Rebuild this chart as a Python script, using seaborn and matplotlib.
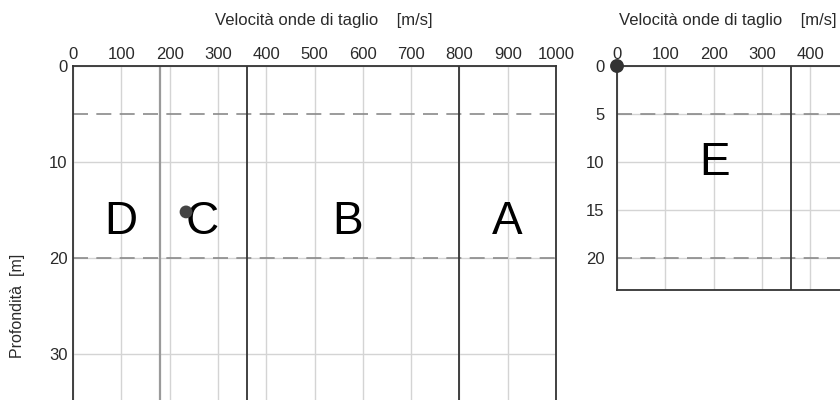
import matplotlib
matplotlib.use("Agg")
import matplotlib.pyplot as plt
import seaborn as sns
import pandas as pd

# dati
vs_ticks = [0, 100, 200, 300, 400, 500, 600, 700, 800, 900, 1000]
vs_ticks_dx = [0, 100, 200, 300, 400]
depth_ticks_left = [0, 10, 20, 30]
depth_ticks_right = [0, 5, 10, 15, 20]
strati = [5, 20]                      # profondità linee tratteggiate
limiti_classi = [180, 360, 800]       # confini delle categorie di suolo
classi = ["D", "C", "B", "A"]
classi_x = [100, 268, 568, 900]
classi_y = [16.3, 16.3, 16.3, 16.3]
punto_sx = pd.DataFrame({"vs": [234], "z": [15.2]})
punto_dx = pd.DataFrame({"vs": [0], "z": [0]})
classe_e = "E"
classe_e_x = 203
classe_e_y = 10.1
limite_e = 360
prof_e = 23.3

sns.set_theme(style="white")
plt.rcParams["font.family"] = ["Liberation Sans", "DejaVu Sans"]

fig = plt.figure(figsize=(8.4, 4.0), dpi=100)
W, H = 840, 400
px = 483 / 1000          # pixel per m/s
py = 9.6                 # pixel per m


def make_ax(left_px, top_px, zmax, xt, ypad):
    h = zmax * py
    ax = fig.add_axes([left_px / W, 1 - (top_px + h) / H, 1000 * px / W, h / H])
    ax.set_xlim(0, 1000)
    ax.set_ylim(zmax, 0)
    ax.xaxis.tick_top()
    ax.set_xticks(xt)
    ax.set_xticks([t for t in vs_ticks if t not in xt], minor=True)
    ax.tick_params(which="both", length=0, labelsize=12, colors="#2a2a2a", pad=3)
    ax.tick_params(axis="y", pad=ypad)
    ax.grid(True, which="both", color="#d4d4d4", lw=1)
    for s in ax.spines.values():
        s.set_color("#333333")
        s.set_linewidth(1.3)
    return ax


# pannello sinistro
ax1 = make_ax(73, 66, 40, vs_ticks, 4)
ax1.set_yticks(depth_ticks_left)
for z in strati:
    ax1.axhline(z, color="#8a8a8a", lw=1.2, dashes=(9, 5))
ax1.axvline(limiti_classi[0], color="#9a9a9a", lw=1.6)
for v in limiti_classi[1:]:
    ax1.axvline(v, color="#333333", lw=1.3)
for c, x, y in zip(classi, classi_x, classi_y):
    ax1.text(x, y, c, fontsize=33, ha="center", va="center", color="black")
sns.scatterplot(data=punto_sx, x="vs", y="z", ax=ax1, s=85, color="#444444",
                edgecolor="none", zorder=5)
ax1.set_xlabel("")
ax1.set_ylabel("")

# pannello destro
ax2 = make_ax(617, 66, prof_e, vs_ticks_dx, 9)
ax2.set_yticks(depth_ticks_right)
for z in strati:
    ax2.axhline(z, color="#8a8a8a", lw=1.2, dashes=(9, 5))
ax2.axvline(limite_e, color="#333333", lw=1.3)
ax2.text(classe_e_x, classe_e_y, classe_e, fontsize=33, ha="center", va="center", color="black")
sns.scatterplot(data=punto_dx, x="vs", y="z", ax=ax2, s=100, color="#333333",
                edgecolor="none", zorder=6, clip_on=False)
ax2.set_xlabel("")
ax2.set_ylabel("")

# titoli asse x e etichetta profondità
fig.text(324 / W, 1 - 20 / H, "Velocità onde di taglio    [m/s]", ha="center", va="center",
         fontsize=12, color="#2a2a2a")
fig.text(728 / W, 1 - 20 / H, "Velocità onde di taglio    [m/s]", ha="center", va="center",
         fontsize=12, color="#2a2a2a")
fig.text(18 / W, 1 - 306 / H, "Profondità  [m]", rotation=90, ha="center", va="center",
         fontsize=11.5, color="#2a2a2a")

fig.savefig("out.png", dpi=100)
